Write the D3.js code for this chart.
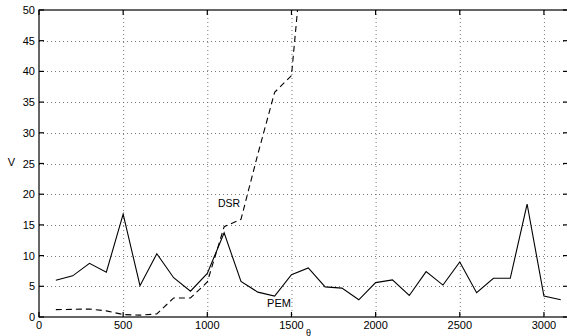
<!DOCTYPE html>
<html>
<head>
<meta charset="utf-8">
<script src="https://cdn.jsdelivr.net/npm/d3@7"></script>
<style>
  body { margin: 0; background: #fff; }
  svg { display: block; font-family: "Liberation Sans", Arial, sans-serif; }
</style>
</head>
<body>
<svg id="chart" width="567" height="336"></svg>
<script>
// sample positions (theta) and the two curves
const xs = [100, 200, 300, 400, 500, 600, 700, 800, 900, 1000, 1100, 1200, 1300, 1400, 1500, 1600,
            1700, 1800, 1900, 2000, 2100, 2200, 2300, 2400, 2500, 2600, 2700, 2800, 2900, 3000, 3100];
const pem = [6.0, 6.7, 8.75, 7.3, 16.75, 5.1, 10.3, 6.4, 4.2, 7.1, 13.7, 5.8, 4.05, 3.4, 6.9, 8.0,
             4.9, 4.7, 2.8, 5.6, 6.05, 3.5, 7.4, 5.2, 8.95, 3.95, 6.3, 6.3, 18.4, 3.4, 2.8];
const dsrX = [100, 200, 300, 400, 500, 600, 700, 800, 900, 1000, 1100, 1200, 1300, 1400, 1500, 1600];
const dsr = [1.2, 1.25, 1.3, 1.0, 0.4, 0.3, 0.5, 3.1, 3.1, 5.7, 14.7, 15.9, 26.5, 36.6, 39.3, 69];
const xTicks = [0, 500, 1000, 1500, 2000, 2500, 3000];
const yTicks = [0, 5, 10, 15, 20, 25, 30, 35, 40, 45, 50];

const pL = 39, pR = 568, pT = 10, pB = 317;
const svg = d3.select("#chart");

const x = d3.scaleLinear().domain([0, 3143]).range([pL, pR]);
const y = d3.scaleLinear().domain([0, 50]).range([pB, pT]);

svg.append("defs").append("clipPath").attr("id", "plotclip")
  .append("rect").attr("x", pL).attr("y", pT)
  .attr("width", pR - pL).attr("height", pB - pT);

// dotted grid
const grid = svg.append("g").attr("stroke", "#555").attr("stroke-width", 0.8)
  .attr("stroke-dasharray", "1,3");
grid.selectAll(".gx").data(xTicks.filter(d => d > 0)).enter().append("line")
  .attr("x1", d => x(d) + 0.5).attr("x2", d => x(d) + 0.5)
  .attr("y1", pT).attr("y2", pB);
grid.selectAll(".gy").data(yTicks.filter(d => d > 0 && d < 50)).enter().append("line")
  .attr("y1", d => Math.round(y(d)) + 0.5).attr("y2", d => Math.round(y(d)) + 0.5)
  .attr("x1", pL).attr("x2", pR);

// box + inward ticks
const frame = svg.append("g").attr("stroke", "#000").attr("stroke-width", 1.2).attr("fill", "none");
frame.append("rect").attr("x", pL).attr("y", pT)
  .attr("width", pR - pL).attr("height", pB - pT);
frame.selectAll(".tb").data(xTicks).enter().append("line")
  .attr("x1", d => x(d)).attr("x2", d => x(d)).attr("y1", pB).attr("y2", pB - 5);
frame.selectAll(".tt").data(xTicks).enter().append("line")
  .attr("x1", d => x(d)).attr("x2", d => x(d)).attr("y1", pT).attr("y2", pT + 5);
frame.selectAll(".tl").data(yTicks).enter().append("line")
  .attr("y1", d => y(d)).attr("y2", d => y(d)).attr("x1", pL).attr("x2", pL + 5);
frame.selectAll(".tr").data(yTicks).enter().append("line")
  .attr("y1", d => y(d)).attr("y2", d => y(d)).attr("x1", pR).attr("x2", pR - 5);

// tick labels
svg.append("g").selectAll("text").data(xTicks).enter().append("text")
  .attr("x", d => x(d)).attr("y", 329).attr("text-anchor", "middle")
  .attr("font-size", 11).text(d => d);
svg.append("g").selectAll("text").data(yTicks).enter().append("text")
  .attr("x", 35).attr("y", d => y(d) + 4).attr("text-anchor", "end")
  .attr("font-size", 11).text(d => d);

// axis labels
svg.append("text").attr("x", 11.5).attr("y", 166).attr("text-anchor", "middle")
  .attr("font-size", 11).text("V");
svg.append("text").attr("x", 306).attr("y", 335.5).attr("text-anchor", "start")
  .attr("font-size", 9).text("θ");

// curves
const plot = svg.append("g").attr("clip-path", "url(#plotclip)");
const line = d3.line().x(d => x(d[0])).y(d => y(d[1]));
plot.append("path").datum(d3.zip(xs, pem)).attr("d", line)
  .attr("fill", "none").attr("stroke", "#000").attr("stroke-width", 1.1);
plot.append("path").datum(d3.zip(dsrX, dsr)).attr("d", line)
  .attr("fill", "none").attr("stroke", "#000").attr("stroke-width", 1.1)
  .attr("stroke-dasharray", "6,4");

// curve names
svg.append("text").attr("x", 229).attr("y", 207).attr("text-anchor", "middle")
  .attr("font-size", 10.5).text("DSR");
svg.append("text").attr("x", 279).attr("y", 306.5).attr("text-anchor", "middle")
  .attr("font-size", 11).text("PEM");
</script>
</body>
</html>
